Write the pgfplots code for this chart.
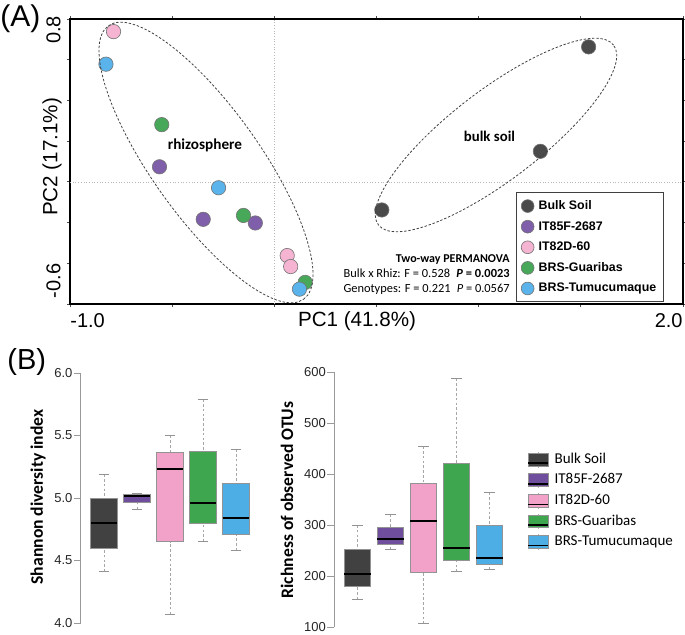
\documentclass[border=0pt]{standalone}
\usepackage{pgfplots}
\pgfplotsset{compat=1.18}
\usepgfplotslibrary{statistics}
\usepackage{fontspec}
\setmainfont{Liberation Sans}
\newfontfamily\calibri{Carlito}
\definecolor{cBulk}{HTML}{4A4A4A}
\definecolor{cPur}{HTML}{7F5FAA}
\definecolor{cPink}{HTML}{F5B4D2}
\definecolor{cGreen}{HTML}{48A85A}
\definecolor{cBlue}{HTML}{5AB4EB}
\definecolor{bBulk}{HTML}{414141}
\definecolor{bPur}{HTML}{6F4E9E}
\definecolor{bPink}{HTML}{F2A1C9}
\definecolor{bGreen}{HTML}{3FA650}
\definecolor{bBlue}{HTML}{4DAEE6}
\newcommand\fs[1]{\fontsize{#1}{#1}\selectfont}
\newcommand\boxleg[1]{\addlegendimage{legend image code/.code={%
  \draw[gray!60,dash pattern=on 0.7pt off 0.5pt] (5pt,3.2pt)--(5pt,4.2pt) (5pt,-3.2pt)--(5pt,-4.2pt);
  \draw[fill=#1,draw=gray!85,line width=0.5pt] (0pt,-3.2pt) rectangle (10pt,3.2pt);
  \draw[black,line width=0.8pt] (0pt,-1.7pt) -- (10pt,-1.7pt);}}}
\pgfplotsset{
  pca/.style={only marks, mark=*, mark size=3.6pt, mark options={fill=#1, draw=black!55, line width=0.3pt}},
  bx/.style={boxplot/every box/.style={draw=gray!85, line width=0.5pt, fill=#1}},
  mybox/.style={
    boxplot/draw direction=y,
    boxplot/box extend=0.8,
    boxplot/whisker extend=0.33,
    boxplot/every median/.style={draw=black, line width=1pt},
    boxplot/draw/lower whisker/.code={%
      \draw[gray!70, dash pattern=on 1.3pt off 1.1pt, line width=0.45pt]
        (boxplot box cs:\pgfplotsboxplotvalue{lower whisker},0.5) -- (boxplot box cs:\pgfplotsboxplotvalue{lower quartile},0.5);
      \draw[gray!85, line width=0.5pt]
        (boxplot whisker cs:\pgfplotsboxplotvalue{lower whisker},0) -- (boxplot whisker cs:\pgfplotsboxplotvalue{lower whisker},1);
    },
    boxplot/draw/upper whisker/.code={%
      \draw[gray!70, dash pattern=on 1.3pt off 1.1pt, line width=0.45pt]
        (boxplot box cs:\pgfplotsboxplotvalue{upper whisker},0.5) -- (boxplot box cs:\pgfplotsboxplotvalue{upper quartile},0.5);
      \draw[gray!85, line width=0.5pt]
        (boxplot whisker cs:\pgfplotsboxplotvalue{upper whisker},0) -- (boxplot whisker cs:\pgfplotsboxplotvalue{upper whisker},1);
    },
  },
  bax/.style={
    scale only axis, width=89.1pt,
    xmin=0.3, xmax=5.7,
    axis y line*=left, axis x line=none, xtick=\empty,
    y axis line style={draw=gray!80, line width=0.5pt},
    ytick style={draw=gray!80, line width=0.5pt},
    tick align=outside, major tick length=3.5pt,
    yticklabel style={font=\fs{6.5}, text=black!85, xshift=2.8pt},
    /pgf/number format/assume math mode=true,
    clip=false,
  },
}
\begin{document}
\begin{tikzpicture}
\path[use as bounding box] (0,0) rectangle (342.5pt,317pt);
% ---------------- Panel A: PCA ----------------
\begin{axis}[
  at={(35pt,165pt)}, anchor=south west,
  scale only axis, width=306.5pt, height=142.5pt,
  xmin=-1, xmax=2, ymin=-0.6, ymax=0.8,
  xtick={-1,-0.5,0,0.5,1,1.5,2}, ytick={-0.6,-0.4,-0.2,0,0.2,0.4,0.6,0.8},
  xticklabels={}, yticklabels={},
  tick align=outside, major tick length=1.5pt,
  axis line style={line width=0.8pt},
  tick style={black!70, line width=0.4pt},
  legend image code/.code={\draw[mark repeat=2,mark phase=2,#1] plot coordinates {(0pt,0pt)(3.3pt,0pt)(6.6pt,0pt)};},
  legend image post style={mark size=3.2pt},
  legend cell align=left,
  legend style={at={(0.727,0.392)}, anchor=north west, draw=black!75, line width=0.6pt, fill=white,
    font=\bfseries\fs{6.2}, inner xsep=2.5pt, inner ysep=2.6pt, row sep=2.3pt,
    nodes={inner sep=1.1pt, text height=4.6pt, text depth=1.2pt},
    /tikz/every odd column/.append style={column sep=1.2pt}},
]
\addplot[forget plot, gray!55, densely dotted, line width=0.35pt] coordinates {(0,-0.6) (0,0.8)};
\addplot[forget plot, gray!55, densely dotted, line width=0.35pt] coordinates {(-1,0) (2,0)};
\addplot[pca=cBulk] coordinates {(0.526,-0.138) (1.302,0.150) (1.538,0.663)};
\addlegendentry{Bulk Soil}
\addplot[pca=cPur] coordinates {(-0.562,0.074) (-0.348,-0.184) (-0.093,-0.202)};
\addlegendentry{IT85F-2687}
\addplot[pca=cPink] coordinates {(-0.787,0.738) (0.063,-0.362) (0.080,-0.416)};
\addlegendentry{IT82D-60}
\addplot[pca=cGreen] coordinates {(-0.551,0.281) (-0.151,-0.165) (0.151,-0.494)};
\addlegendentry{BRS-Guaribas}
\addplot[pca=cBlue] coordinates {(-0.824,0.578) (-0.273,-0.029) (0.123,-0.527)};
\addlegendentry{BRS-Tumucumaque}
\end{axis}
% ellipses
\draw[black!75, dash pattern=on 1.2pt off 0.9pt, line width=0.4pt, rotate around={-54.5:(103pt,235.75pt)}]
  (103pt,235.75pt) ellipse [x radius=84pt, y radius=27pt];
\draw[black!75, dash pattern=on 1.2pt off 0.9pt, line width=0.4pt, rotate around={37.4:(248pt,249.5pt)}]
  (248pt,249.5pt) ellipse [x radius=74pt, y radius=22.5pt];
% texts panel A
\node[anchor=base west, inner sep=0, font=\fs{15}] at (0pt,304pt) {(A)};
\node[anchor=west, inner sep=0, font=\fs{10}] at (35pt,156.5pt) {-1.0};
\node[anchor=east, inner sep=0, font=\fs{10}] at (341.5pt,156.5pt) {2.0};
\node[rotate=90, inner sep=0, font=\fs{10}] at (26.75pt,302pt) {0.8};
\node[rotate=90, inner sep=0, font=\fs{10}] at (26.75pt,176.5pt) {-0.6};
\node[inner sep=0, font=\fs{10.3}] at (178.5pt,156.5pt) {PC1 (41.8\%)};
\node[rotate=90, inner sep=0, font=\fs{10.3}] at (26pt,238.5pt) {PC2 (17.1\%)};
\node[inner sep=0, font=\calibri\bfseries\fs{7.6}] at (102.5pt,244.5pt) {rhizosphere};
\node[inner sep=0, font=\calibri\bfseries\fs{7.4}] at (244.75pt,249pt) {bulk soil};
\node[anchor=base east, inner sep=0, font=\calibri\bfseries\fs{6}] at (255pt,186pt) {Two-way PERMANOVA};
\node[anchor=base east, inner sep=0, font=\calibri\fs{6.2}] at (255pt,178.5pt) {Bulk x Rhiz: F = 0.528\enspace\textbf{\textit{P} = 0.0023}};
\node[anchor=base east, inner sep=0, font=\calibri\fs{6.2}] at (255pt,171pt) {Genotypes: F = 0.221\enspace\textit{P} = 0.0567};
% ---------------- Panel B ----------------
\node[anchor=base west, inner sep=0, font=\fs{14.5}] at (3.5pt,132.5pt) {(B)};
\begin{axis}[bax, at={(40.45pt,5.5pt)}, anchor=south west, height=125pt,
  ymin=4, ymax=6, ytick={4,4.5,5,5.5,6},
  yticklabel style={/pgf/number format/.cd, fixed, fixed zerofill, precision=1}]
\addplot[mybox, bx=bBulk, boxplot prepared={draw position=1, lower whisker=4.41, lower quartile=4.60, median=4.80, upper quartile=5.00, upper whisker=5.19}] coordinates {};
\addplot[mybox, bx=bPur, boxplot prepared={draw position=2, lower whisker=4.91, lower quartile=4.965, median=5.015, upper quartile=5.03, upper whisker=5.035}] coordinates {};
\addplot[mybox, bx=bPink, boxplot prepared={draw position=3, lower whisker=4.07, lower quartile=4.65, median=5.235, upper quartile=5.365, upper whisker=5.50}] coordinates {};
\addplot[mybox, bx=bGreen, boxplot prepared={draw position=4, lower whisker=4.65, lower quartile=4.80, median=4.96, upper quartile=5.375, upper whisker=5.79}] coordinates {};
\addplot[mybox, bx=bBlue, boxplot prepared={draw position=5, lower whisker=4.58, lower quartile=4.71, median=4.84, upper quartile=5.115, upper whisker=5.39}] coordinates {};
\end{axis}
\begin{axis}[bax, at={(167.2pt,3.5pt)}, anchor=south west, height=127.5pt,
  ymin=100, ymax=600, ytick={100,200,300,400,500,600},
  legend cell align=left,
  legend style={at={(1.081,0.692)}, anchor=north west, draw=none, fill=none,
    font=\calibri\fs{7.5}, inner sep=0pt, row sep=1.5pt,
    nodes={inner sep=0.5pt, text height=5.2pt, text depth=1.6pt},
    /tikz/every odd column/.append style={column sep=2.3pt}}]
\addplot[forget plot, mybox, bx=bBulk, boxplot prepared={draw position=1, lower whisker=154, lower quartile=179, median=204.5, upper quartile=252, upper whisker=300}] coordinates {};
\addplot[forget plot, mybox, bx=bPur, boxplot prepared={draw position=2, lower whisker=252, lower quartile=262, median=273, upper quartile=296, upper whisker=321}] coordinates {};
\addplot[forget plot, mybox, bx=bPink, boxplot prepared={draw position=3, lower whisker=106, lower quartile=207, median=308, upper quartile=380.5, upper whisker=454.5}] coordinates {};
\addplot[forget plot, mybox, bx=bGreen, boxplot prepared={draw position=4, lower whisker=208, lower quartile=231, median=254.5, upper quartile=421, upper whisker=587}] coordinates {};
\addplot[forget plot, mybox, bx=bBlue, boxplot prepared={draw position=5, lower whisker=212, lower quartile=223.5, median=236, upper quartile=300, upper whisker=364}] coordinates {};
\boxleg{bBulk}\addlegendentry{Bulk Soil}
\boxleg{bPur}\addlegendentry{IT85F-2687}
\boxleg{bPink}\addlegendentry{IT82D-60}
\boxleg{bGreen}\addlegendentry{BRS-Guaribas}
\boxleg{bBlue}\addlegendentry{BRS-Tumucumaque}
\end{axis}
\node[rotate=90, inner sep=0, font=\calibri\bfseries\fs{8.8}] at (19pt,68.5pt) {Shannon diversity index};
\node[rotate=90, inner sep=0, font=\calibri\bfseries\fs{8.8}] at (143.5pt,67pt) {Richness of observed OTUs};
\end{tikzpicture}
\end{document}
